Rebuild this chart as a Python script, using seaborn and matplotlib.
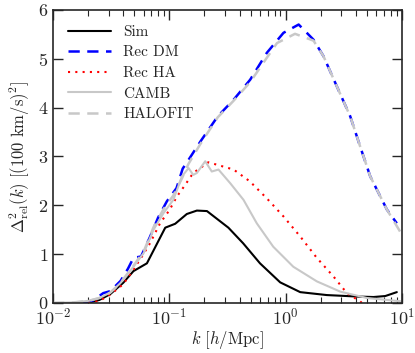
import numpy as np
import pandas as pd
import matplotlib
matplotlib.use("Agg")
import matplotlib.pyplot as plt
import seaborn as sns

# values
k_sim = [0.02, 0.025, 0.031, 0.040, 0.049, 0.064, 0.092, 0.112, 0.141, 0.172, 0.21,
         0.321, 0.43, 0.60, 0.895, 1.33, 2.25, 4.08, 5.68, 7.16, 9.0]
d_sim = [0.0, 0.06, 0.18, 0.41, 0.65, 0.81, 1.54, 1.62, 1.82, 1.89, 1.88,
         1.54, 1.22, 0.81, 0.42, 0.22, 0.16, 0.13, 0.12, 0.14, 0.22]

k_dm = [0.018, 0.022, 0.027, 0.031, 0.038, 0.044, 0.049, 0.057, 0.068, 0.080, 0.095,
        0.115, 0.130, 0.146, 0.184, 0.26, 0.356, 0.494, 0.687, 0.955, 1.29,
        1.73, 2.11, 2.75, 3.58, 4.36, 5.32, 7.4, 9.0]
d_dm = [0.0, 0.05, 0.2, 0.24, 0.45, 0.7, 0.92, 0.95, 1.35, 1.75, 2.08,
        2.35, 2.75, 2.93, 3.30, 3.82, 4.16, 4.57, 5.12, 5.53, 5.70,
        5.39, 5.05, 4.43, 3.82, 3.20, 2.59, 1.91, 1.63]

k_ha = [0.02, 0.025, 0.031, 0.040, 0.049, 0.058, 0.068, 0.083, 0.100, 0.116, 0.135,
        0.16, 0.216, 0.356, 0.49, 0.687, 0.955, 1.33, 1.85, 2.57, 3.35, 4.36, 5.0]
d_ha = [0.0, 0.04, 0.17, 0.38, 0.68, 0.95, 1.22, 1.63, 1.90, 2.18, 2.40,
        2.66, 2.88, 2.73, 2.49, 2.14, 1.77, 1.36, 0.92, 0.54, 0.20, 0.03, -0.1]

k_camb = [0.01, 0.015, 0.02, 0.025, 0.031, 0.0377, 0.049, 0.060, 0.073, 0.089, 0.108,
          0.128, 0.146, 0.160, 0.172, 0.203, 0.231, 0.264, 0.333, 0.433, 0.563,
          0.78, 1.16, 1.85, 2.94, 4.98, 10.0]
d_camb = [0.0, 0.01, 0.04, 0.1, 0.21, 0.40, 0.74, 1.02, 1.50, 1.84, 2.11,
          2.59, 2.76, 2.62, 2.66, 2.90, 2.69, 2.73, 2.45, 2.11, 1.63,
          1.15, 0.74, 0.44, 0.23, 0.10, 0.03]

k_halo = [0.01, 0.015, 0.02, 0.025, 0.031, 0.0377, 0.049, 0.060, 0.073, 0.089, 0.108,
          0.128, 0.146, 0.184, 0.26, 0.356, 0.494, 0.687, 0.84, 1.2,
          1.73, 2.11, 2.75, 3.58, 4.36, 5.32, 7.4, 10.0]
d_halo = [0.0, 0.01, 0.04, 0.1, 0.21, 0.40, 0.76, 1.05, 1.55, 1.92, 2.2,
          2.55, 2.85, 3.25, 3.80, 4.14, 4.52, 5.02, 5.32, 5.51,
          5.37, 5.05, 4.43, 3.82, 3.20, 2.59, 1.91, 1.39]

sns.set_style("ticks")
plt.rcParams.update({
    "font.family": "serif",
    "font.serif": ["cmr10", "DejaVu Serif"],
    "mathtext.fontset": "cm",
    "axes.formatter.use_mathtext": True,
    "axes.unicode_minus": False,
    "font.size": 12,
})

fig = plt.figure(figsize=(4.15, 3.53), dpi=100)
ax = fig.add_axes([0.128, 0.142, 0.841, 0.830])

sns.lineplot(x=k_sim, y=d_sim, ax=ax, color="black", lw=1.5, label="Sim")
sns.lineplot(x=k_dm, y=d_dm, ax=ax, color="blue", lw=1.8, label="Rec DM",
             linestyle=(0, (4.5, 3)))
sns.lineplot(x=k_ha, y=d_ha, ax=ax, color="red", lw=1.5, label="Rec HA",
             linestyle=(0, (1, 2.5)))
sns.lineplot(x=k_camb, y=d_camb, ax=ax, color="#c8c8c8", lw=1.5, label="CAMB")
sns.lineplot(x=k_halo, y=d_halo, ax=ax, color="#c8c8c8", lw=1.8, label="HALOFIT",
             linestyle=(0, (4.5, 3)))

ax.set_xscale("log")
ax.set_xlim(0.01, 10)
ax.set_ylim(0, 6)
ax.set_xlabel(r"$k\ [h/\mathrm{Mpc}]$", fontsize=12, labelpad=1)
ax.set_ylabel(r"$\Delta^2_{\rm rel}(k)\ [(100\ \mathrm{km/s})^2]$", fontsize=12, labelpad=4)
ax.tick_params(which="both", direction="in", top=True, right=True, labelsize=13)
ax.tick_params(which="major", length=7, width=1)
ax.tick_params(which="minor", length=4, width=0.8)
ax.tick_params(axis="x", which="major", pad=3)
ax.yaxis.set_minor_locator(matplotlib.ticker.NullLocator())
for s in ax.spines.values():
    s.set_linewidth(1.2)

ax.legend(loc="upper left", frameon=False, fontsize=11, handlelength=2.8,
          borderaxespad=0.6, labelspacing=0.45)

fig.savefig("out.png", dpi=100)
